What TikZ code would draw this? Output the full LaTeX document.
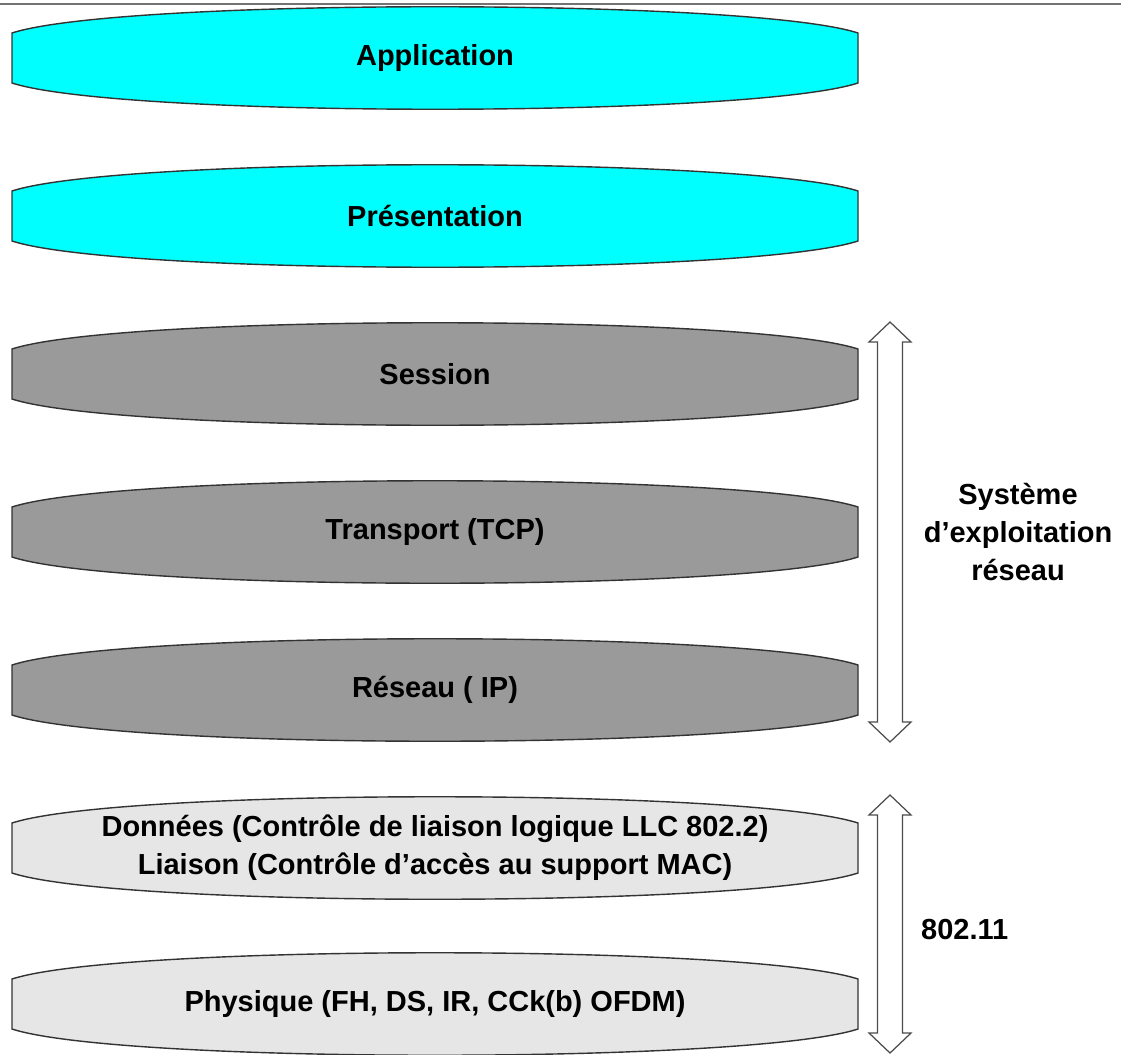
\documentclass[tikz,border=0pt]{standalone}
\usepackage{fontspec}
\setmainfont{Liberation Sans}
\usetikzlibrary{positioning}
\definecolor{appcyan}{HTML}{00FFFF}
\definecolor{osgray}{HTML}{9A9A9A}
\definecolor{maclight}{HTML}{E6E6E6}
\tikzset{
    layer/.style={draw=black!80, line width=0.8pt},
    layertext/.style={font=\bfseries\fontsize{16.5}{21.5}\selectfont, align=center},
    blockarrow/.style={draw=black!70, fill=white, line width=0.7pt, line join=miter}
}
% one disc of the stack: name, centre y, fill, text
\newcommand{\osilayer}[4]{%
    \draw[layer, fill=#3] (12,#2-25) .. controls (120,#2-60) and (750,#2-60) .. (858,#2-25)
        -- (858,#2+25) .. controls (750,#2+60) and (120,#2+60) .. (12,#2+25) -- cycle;
    \node[layertext] (#1) at (435,#2) {#4};
}
% double block arrow between two y values
\newcommand{\dblarrow}[2]{%
    \draw[blockarrow] (890,#1) -- (911,#1+20) -- (902.5,#1+20) -- (902.5,#2-20) -- (911,#2-20)
        -- (890,#2) -- (869,#2-20) -- (877.5,#2-20) -- (877.5,#1+20) -- (869,#1+20) -- cycle;
}
\begin{document}
\begin{tikzpicture}[x=0.02cm, y=-0.02cm]
    \useasboundingbox (0,0) rectangle (1121,1054);
    \draw[black!55, line width=1pt] (0,4) -- (1121,4);

    \osilayer{app}{58}{appcyan}{Application}
    \osilayer{pres}{216}{appcyan}{Présentation}
    \osilayer{sess}{374}{osgray}{Session}
    \osilayer{trans}{532}{osgray}{Transport (TCP)}
    \osilayer{net}{690}{osgray}{Réseau ( IP)}
    \osilayer{link}{848}{maclight}{Données (Contrôle de liaison logique LLC 802.2)\\Liaison (Contrôle d’accès au support MAC)}
    \osilayer{phy}{1004}{maclight}{Physique (FH, DS, IR, CCk(b) OFDM)}

    \dblarrow{322}{742}
    \dblarrow{795}{1053}

    \node[layertext] (nos) at (1018,532) {Système\\d’exploitation\\réseau};
    \node[layertext, anchor=west] (wifi) at (915,930) {802.11};
\end{tikzpicture}
\end{document}
